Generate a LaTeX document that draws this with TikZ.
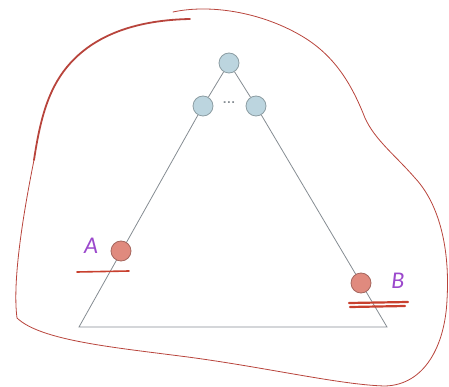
\documentclass[tikz,border=0pt]{standalone}
\usepackage{fontspec}
\newfontfamily\labfont{Carlito}
\begin{document}
\begin{tikzpicture}[x=1pt,y=-1pt,
  blob/.style={draw=blobred, line width=0.8pt, line cap=round, line join=round},
  treenode/.style={circle, draw=nodeedge, fill=nodefill, line width=0.8pt, minimum size=20pt, inner sep=0pt},
  rednode/.style={circle, draw=rededge, fill=redfill, line width=0.8pt, minimum size=20pt, inner sep=0pt},
  edge/.style={draw=edgegray, line width=0.8pt},
  lab/.style={text=labpurple, font=\labfont\itshape\fontsize{24}{24}\selectfont, inner sep=0pt},
  underline/.style={draw=markred, line cap=round}]
\definecolor{blobred}{HTML}{B8443C}
\definecolor{nodefill}{HTML}{BCD5DF}
\definecolor{nodeedge}{HTML}{8C9DA3}
\definecolor{redfill}{HTML}{E08A7E}
\definecolor{rededge}{HTML}{A5665E}
\definecolor{edgegray}{HTML}{858C92}
\definecolor{labpurple}{HTML}{9B48CC}
\definecolor{markred}{HTML}{C8402E}
\useasboundingbox (0,0) rectangle (449,387);
% blob outline
\draw[blob] (173,12) .. controls (210,4) and (260,12) .. (300,35)
  .. controls (335,55) and (352,85) .. (365,118)
  .. controls (375,140) and (395,155) .. (415,178)
  .. controls (440,205) and (450,250) .. (447,300)
  .. controls (445,345) and (425,385) .. (385,386)
  .. controls (340,385) and (260,366) .. (180,356)
  .. controls (110,347) and (40,340) .. (17,318)
  .. controls (12,280) and (24,210) .. (34,160);
\draw[draw=blobred, line width=1.8pt, line cap=round] (34,160)
  .. controls (40,120) and (48,90) .. (67,67)
  .. controls (95,33) and (140,20) .. (190,19);
% tree
\node[treenode] (top) at (229,63) {};
\node[treenode] (l) at (203,106) {};
\node[treenode] (r) at (256,106) {};
\coordinate (bl) at (79,327);
\coordinate (br) at (387,327);
\node[text=edgegray, font=\sffamily\bfseries\fontsize{14}{14}\selectfont, inner sep=0pt] (dots) at (229,103) {...};
\draw[edge] (top) -- (l);
\draw[edge] (top) -- (r);
\draw[edge] (l) -- (bl) -- (br) -- (r);
\node[rednode] (a) at (121,251) {};
\node[rednode] (b) at (361,283) {};
\node[lab] (la) at (91,246) {A};
\node[lab] (lb) at (398,281) {B};
% marks under labels
\draw[underline, line width=1.6pt] (77,272) -- (129,271);
\draw[underline, line width=2.2pt] (349,303) -- (408,302);
\draw[underline, line width=2.2pt] (350,307) -- (405,306);
\end{tikzpicture}
\end{document}
